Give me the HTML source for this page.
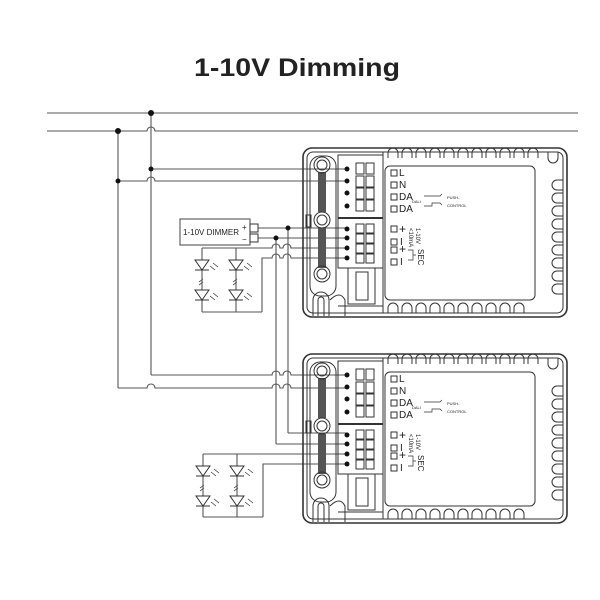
<!DOCTYPE html>
<html><head><meta charset="utf-8"><style>
html,body{margin:0;padding:0;background:#fff;}
svg{display:block;}
text{font-family:"Liberation Sans",sans-serif;fill:#222;}
</style></head><body>
<svg width="600" height="600" viewBox="0 0 600 600" xmlns="http://www.w3.org/2000/svg">
<defs>
<g id="drv" stroke="#333" fill="none" stroke-width="1">
  <rect x="303" y="148" width="264" height="169" rx="9" stroke-width="1.6"/>
  <rect x="307" y="152" width="256" height="161" rx="6"/>
  <rect x="310" y="156" width="26" height="140" rx="10"/>
  <rect x="318" y="172" width="8" height="40" fill="#555" stroke="none"/>
  <rect x="318" y="228" width="8" height="40" fill="#555" stroke="none"/>
  <circle cx="322" cy="165" r="8"/><circle cx="322" cy="165" r="5"/>
  <circle cx="322" cy="220" r="8"/><circle cx="322" cy="220" r="5"/>
  <circle cx="322" cy="274" r="8"/><circle cx="322" cy="274" r="5"/>
  <rect x="306" y="215" width="5" height="12"/>
  <path d="M313 316 V300 a8 8 0 0 1 16 0 V316"/>
  <path d="M318 316 V300 a3 3 0 0 1 6 0 V316"/>
  <path d="M330 300 Q340 290 345 300 V316"/>
  <rect x="338" y="155" width="45" height="113"/>
  <line x1="338" y1="218" x2="383" y2="218" stroke-width="2"/>
  <g>
    <rect x="356" y="163" width="8" height="11"/><rect x="366" y="163" width="8" height="11"/>
    <rect x="356" y="176" width="8" height="11"/><rect x="366" y="176" width="8" height="11"/>
    <rect x="356" y="188" width="8" height="11"/><rect x="366" y="188" width="8" height="11"/>
    <rect x="356" y="200" width="8" height="11"/><rect x="366" y="200" width="8" height="11"/>
    <rect x="356" y="224" width="8" height="9"/><rect x="366" y="224" width="8" height="9"/>
    <rect x="356" y="234" width="8" height="9"/><rect x="366" y="234" width="8" height="9"/>
    <rect x="356" y="244" width="8" height="9"/><rect x="366" y="244" width="8" height="9"/>
    <rect x="356" y="254" width="8" height="9"/><rect x="366" y="254" width="8" height="9"/>
  </g>
  <g fill="#111" stroke="none">
    <circle cx="347" cy="169" r="2.5"/><circle cx="347" cy="181" r="2.5"/>
    <circle cx="347" cy="193" r="2.5"/><circle cx="347" cy="206" r="2.5"/>
    <circle cx="347" cy="229" r="2.5"/><circle cx="347" cy="238" r="2.5"/>
    <circle cx="347" cy="248" r="2.5"/><circle cx="347" cy="258" r="2.5"/>
  </g>
  <rect x="348" y="268" width="27" height="36"/>
  <rect x="356" y="272" width="12" height="28"/>
  <line x1="338" y1="306" x2="383" y2="306"/>
  <line x1="383" y1="152" x2="383" y2="313"/>
  <rect x="385" y="166" width="150" height="134" rx="5"/>
  <path d="M388 158 v-5 a5 5 0 0 1 10 0 v5 M402 158 v-5 a5 5 0 0 1 10 0 v5 M416 158 v-5 a5 5 0 0 1 10 0 v5 M430 158 v-5 a5 5 0 0 1 10 0 v5 M444 158 v-5 a5 5 0 0 1 10 0 v5 M458 158 v-5 a5 5 0 0 1 10 0 v5 M472 158 v-5 a5 5 0 0 1 10 0 v5 M486 158 v-5 a5 5 0 0 1 10 0 v5 M500 158 v-5 a5 5 0 0 1 10 0 v5 M514 158 v-5 a5 5 0 0 1 10 0 v5 M528 158 v-5 a5 5 0 0 1 10 0 v5"/>
  <path d="M388 313 v-5 a5 5 0 0 1 10 0 v5 M402 313 v-5 a5 5 0 0 1 10 0 v5 M416 313 v-5 a5 5 0 0 1 10 0 v5 M430 313 v-5 a5 5 0 0 1 10 0 v5 M444 313 v-5 a5 5 0 0 1 10 0 v5 M458 313 v-5 a5 5 0 0 1 10 0 v5 M472 313 v-5 a5 5 0 0 1 10 0 v5 M486 313 v-5 a5 5 0 0 1 10 0 v5 M500 313 v-5 a5 5 0 0 1 10 0 v5 M514 313 v-5 a5 5 0 0 1 10 0 v5"/>
  <path d="M563 180 h-6 a5 5 0 0 0 0 10 h6 M563 193 h-6 a5 5 0 0 0 0 10 h6 M563 206 h-6 a5 5 0 0 0 0 10 h6 M563 219 h-6 a5 5 0 0 0 0 10 h6 M563 232 h-6 a5 5 0 0 0 0 10 h6 M563 245 h-6 a5 5 0 0 0 0 10 h6 M563 258 h-6 a5 5 0 0 0 0 10 h6 M563 271 h-6 a5 5 0 0 0 0 10 h6 M563 284 h-6 a5 5 0 0 0 0 10 h6"/>
  <path d="M548 152 v6 a5 5 0 0 0 10 0 v-6"/>
  <rect x="391" y="170" width="6" height="6"/><rect x="391" y="182" width="6" height="6"/>
  <rect x="391" y="194" width="6" height="6"/><rect x="391" y="206" width="6" height="6"/>
  <rect x="391" y="226" width="6" height="6"/><rect x="391" y="239" width="6" height="6"/>
  <rect x="391" y="247" width="6" height="6"/><rect x="391" y="259" width="6" height="6"/>
  <path d="M424 196 h16 l2 -2 M424 206 h8 v-3 h8 l2 2" stroke-width="0.7"/>
  <path d="M408 250 h5 v10 h-5 M413 255 h3" stroke-width="0.7"/>
</g>
</defs>

<text x="297" y="76" text-anchor="middle" font-size="25" font-weight="bold" fill="#111" textLength="206" lengthAdjust="spacingAndGlyphs">1-10V Dimming</text>

<g stroke="#555" stroke-width="1.1" fill="none">
  <line x1="47" y1="113" x2="578" y2="113"/>
  <path d="M47 131 H147 a4 4 0 0 1 8 0 H578"/>
  <line x1="151" y1="113" x2="151" y2="375"/>
  <line x1="118" y1="131" x2="118" y2="388"/>
  <line x1="151" y1="169" x2="347" y2="169"/>
  <path d="M118 181 H147 a4 4 0 0 1 8 0 H347"/>
  <path d="M151 375 H272 a4 4 0 0 1 8 0 H283 a4 4 0 0 1 8 0 H347"/>
  <path d="M118 388 H147 a4 4 0 0 1 8 0 H272 a4 4 0 0 1 8 0 H283 a4 4 0 0 1 8 0 H347"/>
  <rect x="180" y="219" width="70" height="26"/>
  <line x1="258" y1="228" x2="347" y2="228"/>
  <line x1="258" y1="238" x2="347" y2="238"/>
  <path d="M202 248 H272 a4 4 0 0 1 8 0 H283 a4 4 0 0 1 8 0 H347"/>
  <path d="M262 312 V258 H272 a4 4 0 0 1 8 0 H283 a4 4 0 0 1 8 0 H347"/>
  <line x1="288" y1="228" x2="288" y2="433"/>
  <line x1="276" y1="238" x2="276" y2="444"/>
  <line x1="288" y1="433" x2="347" y2="433"/>
  <line x1="276" y1="444" x2="347" y2="444"/>
  <line x1="202" y1="248" x2="202" y2="312"/>
  <line x1="236" y1="248" x2="236" y2="312"/>
  <line x1="202" y1="312" x2="262" y2="312"/>
  <line x1="203" y1="454" x2="347" y2="454"/>
  <path d="M263 517 V464 H347"/>
  <line x1="203" y1="454" x2="203" y2="517"/>
  <line x1="237" y1="454" x2="237" y2="517"/>
  <line x1="203" y1="517" x2="263" y2="517"/>
</g>
<g fill="#111">
  <circle cx="151" cy="113" r="3"/><circle cx="118" cy="131" r="3"/>
  <circle cx="151" cy="169" r="2.5"/><circle cx="118" cy="181" r="2.5"/>
  <circle cx="288" cy="228" r="2.5"/><circle cx="276" cy="238" r="2.5"/>
</g>
<g stroke="#333" fill="#fff" stroke-width="1">
  <rect x="250" y="224" width="8" height="8"/>
  <rect x="250" y="234" width="8" height="8"/>
</g>
<text x="183" y="235" font-size="8">1-10V DIMMER</text>
<text x="242" y="230" font-size="8">+</text>
<text x="242" y="242" font-size="8">−</text>

<g stroke="#333" stroke-width="1" fill="#fff">
  <g id="led"><path d="M195 260 h14 l-7 10 z"/><line x1="195" y1="270" x2="209" y2="270"/><path d="M210 266 l5 4 M213 263 l5 4" stroke-width="0.7"/></g>
  <use href="#led" x="34"/>
  <use href="#led" x="0" y="30"/>
  <use href="#led" x="34" y="30"/>
  <use href="#led" x="1" y="206"/>
  <use href="#led" x="35" y="206"/>
  <use href="#led" x="1" y="236"/>
  <use href="#led" x="35" y="236"/>
</g>
<g stroke="#555" stroke-width="0.8">
  <path d="M199 282 l4 -3 M199 285 l4 -3 M233 282 l4 -3 M233 285 l4 -3 M200 488 l4 -3 M200 491 l4 -3 M234 488 l4 -3 M234 491 l4 -3"/>
</g>

<use href="#drv"/>
<use href="#drv" y="206"/>

<g id="lbl" font-size="10">
  <text x="399" y="176">L</text>
  <text x="399" y="188">N</text>
  <text x="399" y="200">DA</text>
  <text x="399" y="212">DA</text>
  <text x="399" y="233" font-size="12">+</text>
  <text x="400" y="245">I</text>
  <text x="399" y="253" font-size="12">+</text>
  <text x="400" y="265">I</text>
  <text x="412" y="203" font-size="4">DALI</text>
  <text x="447" y="199" font-size="4">PUSH-</text>
  <text x="447" y="207" font-size="4">CONTROL</text>
  <text transform="translate(416,228) rotate(90)" font-size="6">1-10V</text>
  <text transform="translate(409,228) rotate(90)" font-size="6">&lt;10mA</text>
  <text transform="translate(418,249) rotate(90)" font-size="8">SEC</text>
</g>
<use href="#lbl" y="206"/>
</svg>
</body></html>
